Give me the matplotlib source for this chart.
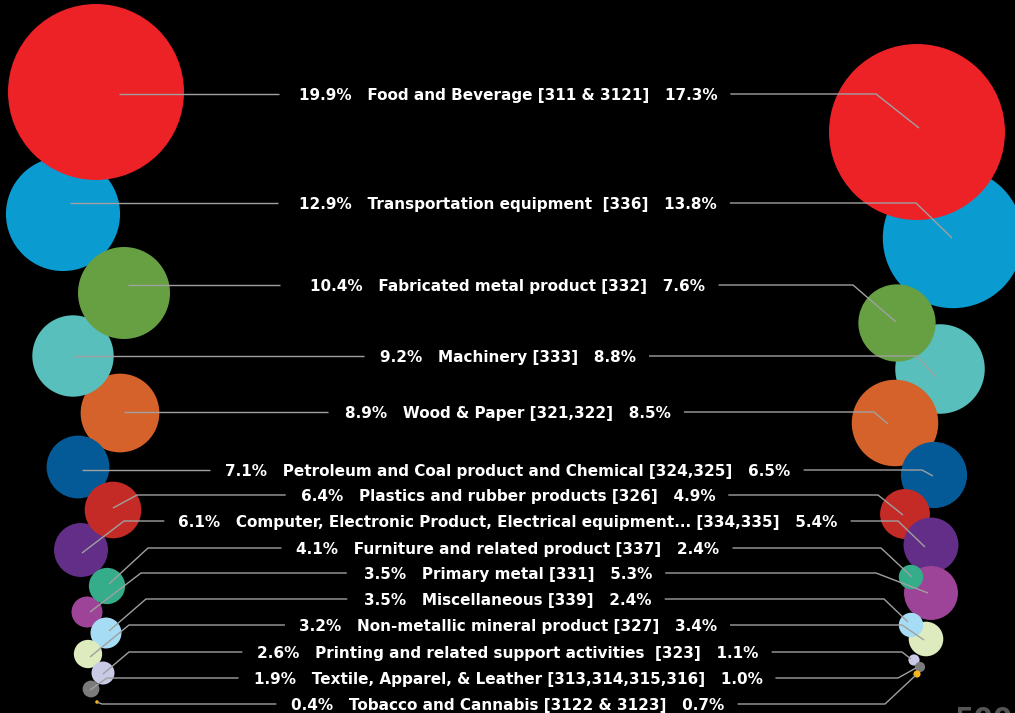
import matplotlib
matplotlib.use("Agg")
import matplotlib.pyplot as plt
from matplotlib.patches import Circle

# Shares (%) for each industry group, left and right columns
categories = [
    "Food and Beverage [311 & 3121]",
    "Transportation equipment  [336]",
    "Fabricated metal product [332]",
    "Machinery [333]",
    "Wood & Paper [321,322]",
    "Petroleum and Coal product and Chemical [324,325]",
    "Plastics and rubber products [326]",
    "Computer, Electronic Product, Electrical equipment... [334,335]",
    "Furniture and related product [337]",
    "Primary metal [331]",
    "Miscellaneous [339]",
    "Non-metallic mineral product [327]",
    "Printing and related support activities  [323]",
    "Textile, Apparel, & Leather [313,314,315,316]",
    "Tobacco and Cannabis [3122 & 3123]",
]
share_left = [19.9, 12.9, 10.4, 9.2, 8.9, 7.1, 6.4, 6.1, 4.1, 3.5, 3.5, 3.2, 2.6, 1.9, 0.4]
share_right = [17.3, 13.8, 7.6, 8.8, 8.5, 6.5, 4.9, 5.4, 2.4, 5.3, 2.4, 3.4, 1.1, 1.0, 0.7]

colors = ["#ED2227", "#0A9BD0", "#67A043", "#58BFBC", "#D4622A", "#045A97", "#C42B27",
          "#622E87", "#35AD8A", "#9D4499", "#A6DDF4", "#DDEBBE", "#C9CAE5", "#7B7B7B", "#F9B618"]

# Layout (pixel positions of the bubbles and label rows)
row_y = [94, 203, 285, 356, 412, 470, 495, 521, 548, 573, 599, 625, 652, 678, 704]
left_cx = [96, 63, 124, 73, 120, 78, 113, 81, 107, 87, 106, 88, 103, 91, 97]
left_cy = [92, 214, 293, 356, 413, 467, 510, 550, 586, 612, 633, 654, 673, 689, 702]
right_cx = [917, 953, 897, 940, 895, 934, 905, 931, 911, 931, 911, 926, 914, 920, 917]
right_cy = [132, 238, 323, 369, 423, 475, 514, 545, 577, 593, 625, 639, 660, 667, 674]
left_z = [20, 1, 5, 4, 3, 6, 8, 7, 10, 9, 11, 12, 13, 12.5, 14]
right_z = [20, 1, 5, 4, 6, 7, 8, 9, 11, 10, 13, 12, 14, 15, 16]

# leader lines: point inside the bubble, elbow x (None = straight)
left_tip = [(119, 94), (70, 203), (128, 285), (74, 356), (124, 412), (82, 470),
            (113, 508), (82, 553), (109, 584), (90, 612), (109, 631), (90, 657),
            (103, 674), (90, 690), (97, 702)]
left_elbow = [None, None, None, None, None, None, 137, 124, 148, 141, 146, 129, 129, 107, 102]
left_gap = [20, 21, 30, 16, 17, 15, 15, 14, 15, 17, 17, 14, 15, 15, 15]
right_tip = [(919, 128), (952, 238), (896, 322), (936, 377), (888, 424), (933, 476),
             (903, 515), (925, 547), (912, 577), (928, 593), (908, 622), (924, 640),
             (911, 659), (916, 668), (916, 675)]
right_elbow = [876, 916, 853, 917, 874, 922, 878, 898, 881, 876, 884, 902, 902, 898, 885]
right_gap = 13

W, H = 1015, 713
fig = plt.figure(figsize=(W / 100, H / 100), dpi=100, facecolor="black")
ax = fig.add_axes([0, 0, 1, 1])
ax.set_facecolor("black")
ax.set_xlim(0, W)
ax.set_ylim(H, 0)
ax.axis("off")

rmax = 88
for i in range(len(categories)):
    r = rmax * share_left[i] / max(share_left)
    ax.add_patch(Circle((left_cx[i], left_cy[i]), r, color=colors[i], lw=0, zorder=left_z[i]))
    r = rmax * share_right[i] / max(share_right)
    ax.add_patch(Circle((right_cx[i], right_cy[i]), r, color=colors[i], lw=0, zorder=right_z[i]))

texts = []
for i, cat in enumerate(categories):
    label = f"{share_left[i]:.1f}%   {cat}   {share_right[i]:.1f}%"
    t = ax.text(508, row_y[i] + 6, label, ha="center", va="baseline", color="white",
                fontsize=11, fontweight="bold", family="DejaVu Sans", zorder=40)
    texts.append(t)

# grey number cut off at bottom right
ax.text(955, 706, "500", ha="left", va="top", color="#555555", fontsize=20,
        fontweight="bold", family="DejaVu Sans", zorder=40)

fig.canvas.draw()
renderer = fig.canvas.get_renderer()
inv = ax.transData.inverted()
line_kw = dict(color="#A0A0A0", lw=1.0, zorder=30, solid_capstyle="butt")
for i, t in enumerate(texts):
    bb = t.get_window_extent(renderer)
    x0 = inv.transform((bb.x0, 0))[0]
    x1 = inv.transform((bb.x1, 0))[0]
    y = row_y[i]
    # left leader
    tx, ty = left_tip[i]
    if left_elbow[i] is None:
        ax.plot([tx, x0 - left_gap[i]], [ty, ty], **line_kw)
    else:
        ax.plot([tx, left_elbow[i], x0 - left_gap[i]], [ty, y, y], **line_kw)
    # right leader
    tx, ty = right_tip[i]
    ax.plot([x1 + right_gap, right_elbow[i], tx], [y, y, ty], **line_kw)

fig.savefig("out.png", dpi=100, facecolor="black")
